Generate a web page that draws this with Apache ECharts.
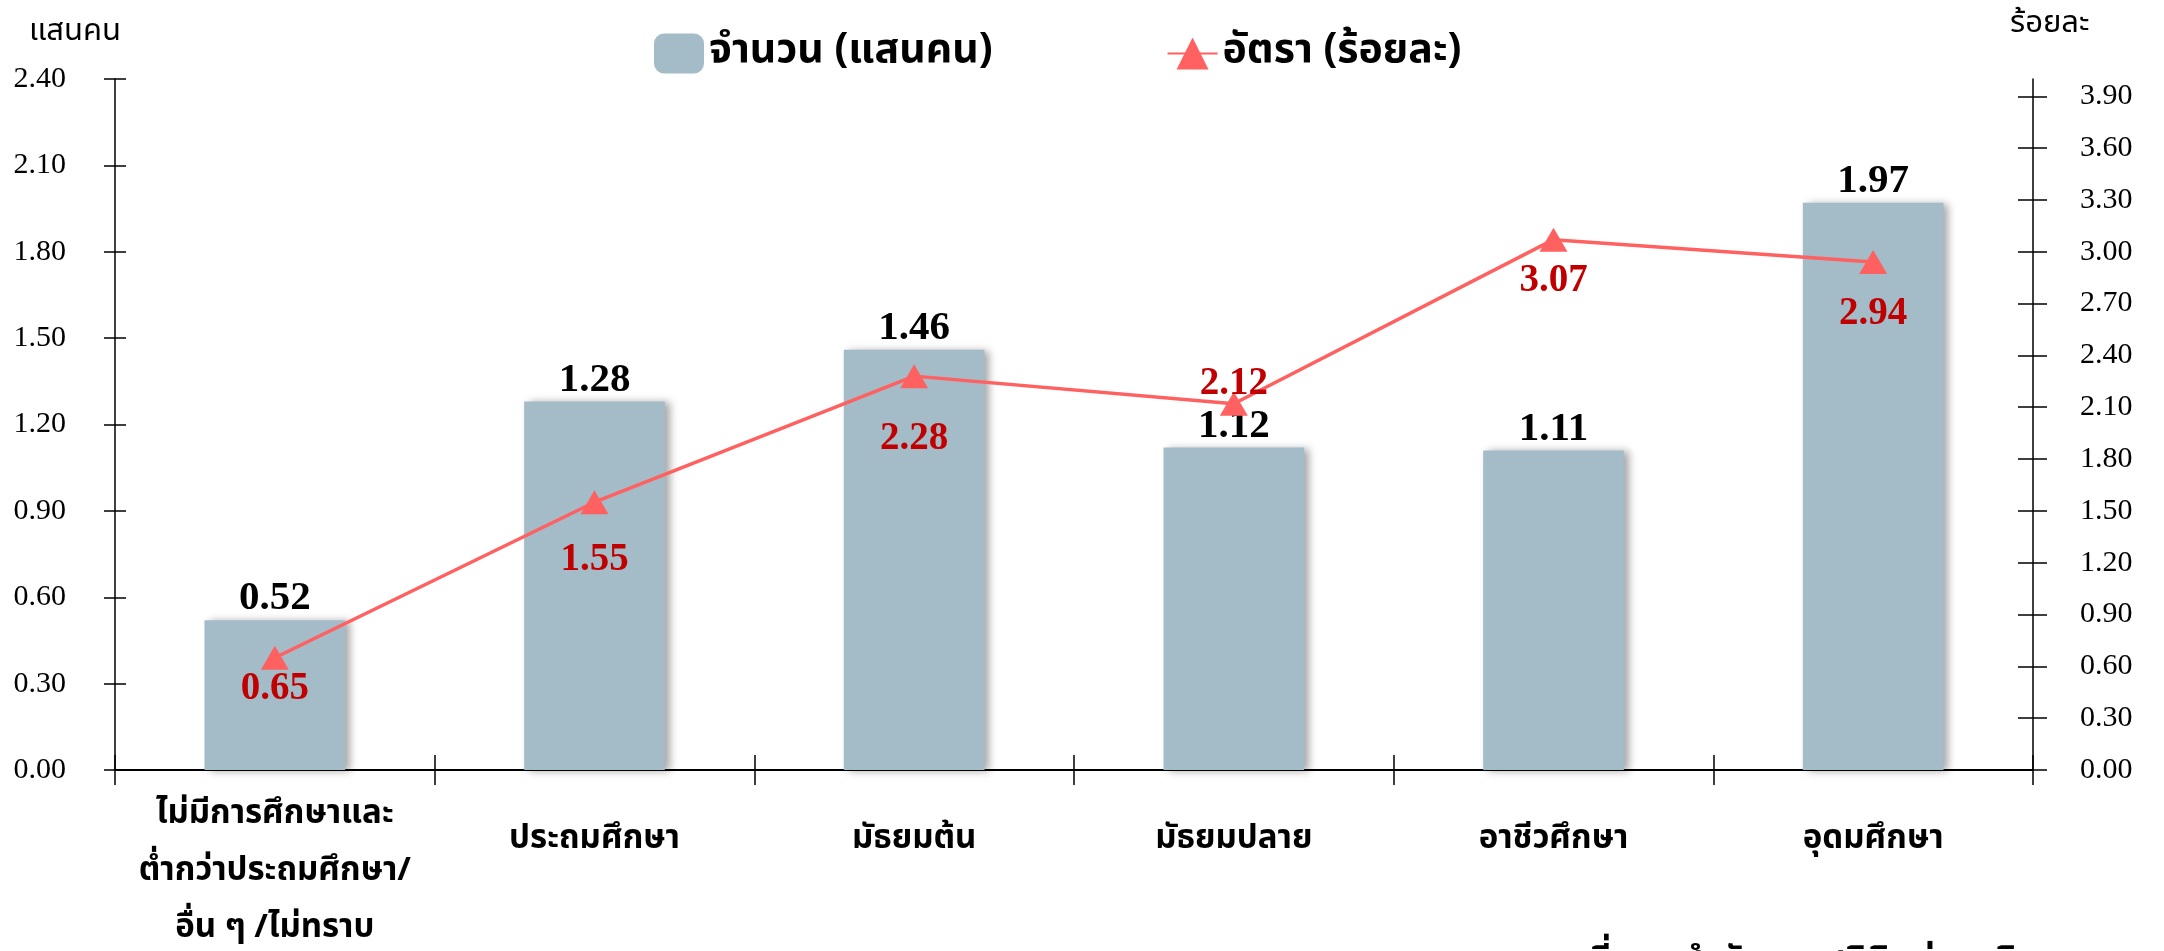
<!DOCTYPE html>
<html>
<head>
<meta charset="utf-8">
<script src="https://cdn.jsdelivr.net/npm/echarts@6/dist/echarts.min.js"></script>
<style>
html,body{margin:0;padding:0;background:#fff;}
#chart{width:2164px;height:951px;}
</style>
</head>
<body>
<div id="chart"></div>
<script>
// ---- data ----
const categories = ['ไม่มีการศึกษาและ\nต่ำกว่าประถมศึกษา/\nอื่น ๆ /ไม่ทราบ', 'ประถมศึกษา', 'มัธยมต้น', 'มัธยมปลาย', 'อาชีวศึกษา', 'อุดมศึกษา'];
const countValues = [0.52, 1.28, 1.46, 1.12, 1.11, 1.97];
const rateValues = [0.65, 1.55, 2.28, 2.12, 3.07, 2.94];
const leftTicks = [0.00, 0.30, 0.60, 0.90, 1.20, 1.50, 1.80, 2.10, 2.40];
const rightTicks = [0.00, 0.30, 0.60, 0.90, 1.20, 1.50, 1.80, 2.10, 2.40, 2.70, 3.00, 3.30, 3.60, 3.90];
const seriesNames = ['จำนวน (แสนคน)', 'อัตรา (ร้อยละ)'];
const leftAxisName = 'แสนคน';
const rightAxisName = 'ร้อยละ';
const sourceText = 'ที่มา : สำนักงานสถิติแห่งชาติ';

// ---- styling ----
const thaiFont = '"Noto Sans Thai", "Noto Sans Thai UI", "Loma", "Garuda", "Norasi", "Noto Sans", "DejaVu Sans", sans-serif';
const numFont = '"Liberation Serif", "Times New Roman", serif';
const barColor = '#a4bbc8';
const lineColor = '#ff6161';
// label placement of the rate labels (side, distance in px)
const rateLabelPlacement = [['bottom', 0], ['bottom', 26], ['bottom', 31], ['top', -12], ['bottom', 10], ['bottom', 20]];

const chart = echarts.init(document.getElementById('chart'));

const option = {
  animation: false,
  backgroundColor: '#ffffff',
  legend: {
    left: 649, top: 28,
    itemWidth: 50, itemHeight: 40, itemGap: 174,
    textStyle: {fontFamily: thaiFont, fontWeight: 'bold', fontSize: 41, color: '#000'},
    data: seriesNames
  },
  grid: {left: 115, right: 131, top: 79, bottom: 181, containLabel: false, outerBoundsMode: 'none'},
  xAxis: [{
    type: 'category', data: categories, position: 'bottom',
    axisLine: {lineStyle: {color: '#000', width: 2}},
    axisTick: {show: true, length: 15, lineStyle: {color: '#000', width: 1.5}},
    axisLabel: {
      interval: 0, margin: 18, color: '#000',
      fontFamily: thaiFont, fontWeight: 'bold', fontSize: 33, lineHeight: 57,
      formatter: function (v) { return v.indexOf('\n') >= 0 ? v : '{s|' + v + '}'; },
      rich: {s: {fontFamily: thaiFont, fontWeight: 'bold', fontSize: 33, lineHeight: 57, padding: [50, 0, 0, 0]}}
    }
  }, {
    type: 'category', data: categories, position: 'bottom',
    axisLine: {show: false},
    axisTick: {show: true, inside: true, length: 15, lineStyle: {color: '#000', width: 1.5}},
    axisLabel: {show: false}
  }],
  yAxis: [{
    type: 'value', min: 0, max: 2.4, position: 'left',
    name: leftAxisName, nameLocation: 'end', nameGap: 30,
    nameTextStyle: {fontFamily: thaiFont, fontSize: 31, color: '#000', align: 'right', padding: [0, -6, 0, 0]},
    axisLine: {show: true, lineStyle: {color: '#000', width: 1.5}},
    axisTick: {show: true, length: 11, customValues: leftTicks, lineStyle: {color: '#000', width: 1.5}},
    axisLabel: {margin: 49, color: '#000', fontFamily: numFont, fontSize: 30, customValues: leftTicks, formatter: v => v.toFixed(2)},
    splitLine: {show: false}
  }, {
    type: 'value', min: 0, max: 4, position: 'right',
    name: rightAxisName, nameLocation: 'end', nameGap: 38,
    nameTextStyle: {fontFamily: thaiFont, fontSize: 31, color: '#000', align: 'left', padding: [0, 0, 0, -23]},
    axisLine: {show: true, lineStyle: {color: '#000', width: 1.5}},
    axisTick: {show: true, length: 14, customValues: rightTicks, lineStyle: {color: '#000', width: 1.5}},
    axisLabel: {margin: 47, color: '#000', fontFamily: numFont, fontSize: 30, customValues: rightTicks, formatter: v => v.toFixed(2)},
    splitLine: {show: false}
  }, {
    type: 'value', min: 0, max: 2.4, position: 'left',
    axisLine: {show: false},
    axisTick: {show: true, inside: true, length: 11, customValues: leftTicks, lineStyle: {color: '#000', width: 1.5}},
    axisLabel: {show: false}, splitLine: {show: false}
  }, {
    type: 'value', min: 0, max: 4, position: 'right',
    axisLine: {show: false},
    axisTick: {show: true, inside: true, length: 15, customValues: rightTicks, lineStyle: {color: '#000', width: 1.5}},
    axisLabel: {show: false}, splitLine: {show: false}
  }],
  series: [{
    name: seriesNames[0], type: 'bar', xAxisIndex: 0, yAxisIndex: 0,
    data: countValues, barWidth: '44%',
    itemStyle: {color: barColor, shadowColor: 'rgba(0,0,0,0.35)', shadowBlur: 8, shadowOffsetX: 5, shadowOffsetY: 1},
    label: {show: true, position: 'top', distance: 1, color: '#000', fontFamily: numFont, fontWeight: 'bold', fontSize: 41, formatter: p => p.value.toFixed(2)},
    z: 2
  }, {
    name: seriesNames[1], type: 'line', xAxisIndex: 0, yAxisIndex: 1,
    data: rateValues.map((v, i) => ({value: v, label: {position: rateLabelPlacement[i][0], distance: rateLabelPlacement[i][1]}})),
    symbol: 'triangle', symbolSize: [28, 24],
    lineStyle: {color: lineColor, width: 3.5},
    itemStyle: {color: lineColor},
    label: {show: true, color: '#c00000', fontFamily: numFont, fontWeight: 'bold', fontSize: 39, formatter: p => p.value.toFixed(2)},
    z: 5
  }],
  graphic: [{
    type: 'text', left: 1589, top: 946,
    style: {text: sourceText, fontFamily: thaiFont, fontWeight: 'bold', fontSize: 36, fill: '#000'}
  }]
};
chart.setOption(option);
</script>
</body>
</html>
